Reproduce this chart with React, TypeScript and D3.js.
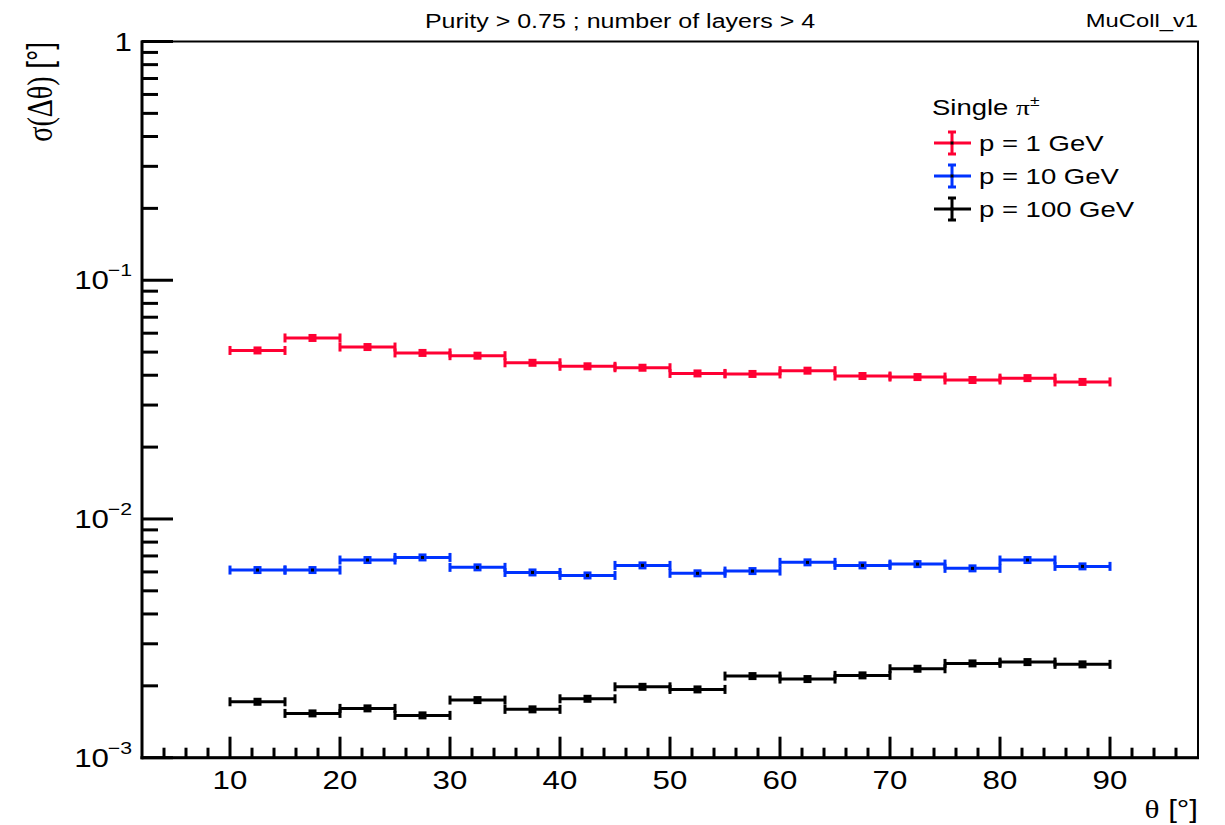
import React from "react";
import * as d3 from "d3";

const binLow = [10, 15, 20, 25, 30, 35, 40, 45, 50, 55, 60, 65, 70, 75, 80, 85];
const binHigh = [15, 20, 25, 30, 35, 40, 45, 50, 55, 60, 65, 70, 75, 80, 85, 90];
const p1GeV = [0.0508, 0.0573, 0.0525, 0.0496, 0.0483, 0.0451, 0.0436, 0.043, 0.0407, 0.0405, 0.0418, 0.0397, 0.0393, 0.0382, 0.0389, 0.0375];
const p10GeV = [0.00611, 0.00611, 0.00673, 0.0069, 0.00627, 0.00597, 0.0058, 0.00639, 0.00592, 0.00605, 0.00658, 0.00639, 0.00647, 0.00621, 0.00673, 0.00633];
const p100GeV = [0.001715, 0.001533, 0.001609, 0.001504, 0.001743, 0.001594, 0.001765, 0.001981, 0.001932, 0.002197, 0.002135, 0.002212, 0.002358, 0.002483, 0.002515, 0.00246];
const seriesNames = ["p = 1 GeV", "p = 10 GeV", "p = 100 GeV"];
const seriesColors = ["#ff0033", "#0033ff", "#000000"];
const xMajorTicks = [10, 20, 30, 40, 50, 60, 70, 80, 90];
const yDecades = [1, 0.1, 0.01, 0.001];
const yDecadeExp = ["", "\u22121", "\u22122", "\u22123"];

const SX = 1.25;
const FONT = "'Liberation Sans', Arial, Helvetica, sans-serif";

const L = 142, R = 1198, T = 41.5, B = 757.7;

function T2({ x, y, size, anchor = "start", children, family = FONT, rotate = 0 }: any) {
  return (
    <g transform={`translate(${x},${y}) scale(${SX},1)${rotate ? ` rotate(${rotate})` : ""}`}>
      <text x={0} y={0} fontSize={size} fontFamily={family} textAnchor={anchor} fill="#000">
        {children}
      </text>
    </g>
  );
}

export default function App() {
  const x = d3.scaleLinear().domain([2, 98]).range([L, R]);
  const y = d3.scaleLog().domain([0.001, 1]).range([B, T]);

  const xMinor = d3.range(4, 98, 2).filter((v) => v % 10 !== 0);
  const yMinor: number[] = [];
  [0.001, 0.01, 0.1].forEach((d) => {
    for (let k = 2; k <= 9; k++) yMinor.push(d * k);
  });

  const series = [p1GeV, p10GeV, p100GeV];

  return (
    <svg width={1225} height={825} style={{ position: "absolute", left: 0, top: 0, background: "#fff" }}>
      <rect x={0} y={0} width={1225} height={825} fill="#fff" />
      {/* frame */}
      <rect x={L} y={T} width={R - L} height={B - T} fill="none" stroke="#000" strokeWidth={2} />
      <line x1={L} x2={L} y1={T - 1} y2={B + 1.5} stroke="#000" strokeWidth={3} />
      <line x1={L - 1.5} x2={R + 1} y1={B} y2={B} stroke="#000" strokeWidth={3} />

      {/* x ticks */}
      {xMajorTicks.map((t) => (
        <line key={"xM" + t} x1={x(t)} x2={x(t)} y1={B} y2={B - 21} stroke="#000" strokeWidth={3} />
      ))}
      {xMinor.map((t) => (
        <line key={"xm" + t} x1={x(t)} x2={x(t)} y1={B} y2={B - 10} stroke="#000" strokeWidth={3} />
      ))}
      {xMajorTicks.map((t) => (
        <T2 key={"xl" + t} x={x(t)} y={789} size={25} anchor="middle">
          {t}
        </T2>
      ))}

      {/* y ticks */}
      {yDecades.map((t) => (
        <line key={"yM" + t} x1={L} x2={L + 31} y1={y(t)} y2={y(t)} stroke="#000" strokeWidth={3} />
      ))}
      {yMinor.map((t, i) => (
        <line key={"ym" + i} x1={L} x2={L + 16} y1={y(t)} y2={y(t)} stroke="#000" strokeWidth={3} />
      ))}
      {yDecades.map((t, i) =>
        i === 0 ? (
          <T2 key={"yl" + i} x={132} y={y(t) + 9} size={25} anchor="end">
            1
          </T2>
        ) : (
          <g key={"yl" + i}>
            <T2 x={132} y={y(t) - 4} size={17} anchor="end">
              {yDecadeExp[i]}
            </T2>
            <T2 x={132 - 23} y={y(t) + 9} size={25} anchor="end">
              10
            </T2>
          </g>
        )
      )}

      {/* axis titles */}
      <g transform={`translate(1198,818) scale(${SX},1)`}>
        <text x={0} y={0} fontSize={25} fontFamily={FONT} textAnchor="end">
          <tspan fontFamily="'Liberation Serif', 'Times New Roman', serif">θ</tspan>
          <tspan> [°]</tspan>
        </text>
      </g>
      <g transform={`translate(52,42) scale(${SX},1) rotate(-90)`}>
        <text x={0} y={0} fontSize={28} fontFamily={FONT} textAnchor="end">
          <tspan fontFamily="'Liberation Serif', 'Times New Roman', serif">σ(Δθ)</tspan>
          <tspan> [°]</tspan>
        </text>
      </g>

      {/* title & label */}
      <T2 x={620} y={28} size={20} anchor="middle">
        Purity &gt; 0.75 ; number of layers &gt; 4
      </T2>
      <T2 x={1198} y={27} size={19} anchor="end">
        MuColl_v1
      </T2>

      {/* data */}
      {series.map((vals, si) => (
        <g key={"s" + si}>
          {vals.map((v, i) => {
            const x0 = x(binLow[i]);
            const x1 = x(binHigh[i]);
            const yy = y(v);
            const xc = x((binLow[i] + binHigh[i]) / 2);
            const c = seriesColors[si];
            return (
              <g key={i}>
                <line x1={x0} x2={x1} y1={yy} y2={yy} stroke={c} strokeWidth={3} />
                <line x1={x0} x2={x0} y1={yy - 4.5} y2={yy + 4.5} stroke={c} strokeWidth={3} />
                <line x1={x1} x2={x1} y1={yy - 4.5} y2={yy + 4.5} stroke={c} strokeWidth={3} />
                <rect x={xc - 4} y={yy - 4} width={8} height={8} fill={c} />
                {si === 1 && <rect x={xc - 1.5} y={yy - 1.5} width={3} height={3} fill="#000" />}
              </g>
            );
          })}
        </g>
      ))}

      {/* legend */}
      <T2 x={932} y={115} size={22}>
        Single <tspan fontFamily="'Liberation Serif', 'Times New Roman', serif">π</tspan>
        <tspan fontSize={14} dy={-9}>±</tspan>
      </T2>
      {seriesNames.map((name, i) => {
        const cy = 143 + i * 33;
        const c = seriesColors[i];
        return (
          <g key={"lg" + i}>
            <line x1={934} x2={971} y1={cy} y2={cy} stroke={c} strokeWidth={3} />
            <line x1={952} x2={952} y1={cy - 11} y2={cy + 11} stroke={c} strokeWidth={3} />
            <line x1={948} x2={956} y1={cy - 11} y2={cy - 11} stroke={c} strokeWidth={3} />
            <line x1={948} x2={956} y1={cy + 11} y2={cy + 11} stroke={c} strokeWidth={3} />
            <rect x={950.5} y={cy - 1.5} width={3} height={3} fill="#000" />
            <T2 x={979} y={cy + 8} size={22}>
              {name}
            </T2>
          </g>
        );
      })}
    </svg>
  );
}
